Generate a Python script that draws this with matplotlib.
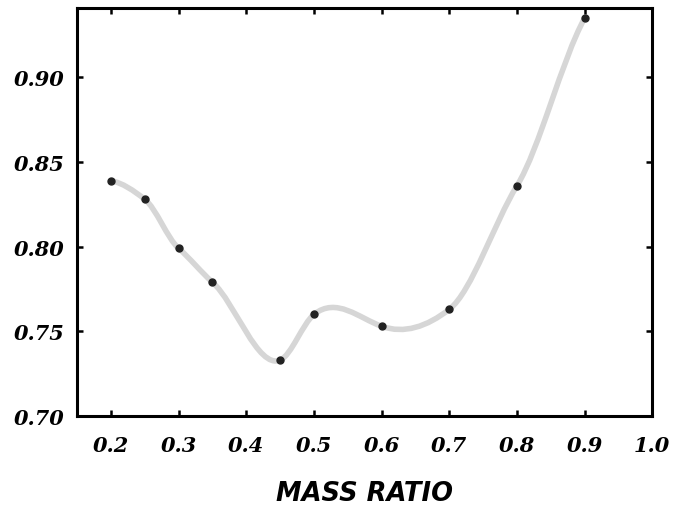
import numpy as np
import matplotlib
matplotlib.use("Agg")
import matplotlib.pyplot as plt
from matplotlib.path import Path
from matplotlib.patches import PathPatch

# values
mass_ratio = [0.20, 0.25, 0.30, 0.35, 0.45, 0.50, 0.60, 0.70, 0.80, 0.90]
response = [0.839, 0.828, 0.799, 0.779, 0.733, 0.760, 0.753, 0.763, 0.836, 0.935]

x_ticks = [0.2, 0.3, 0.4, 0.5, 0.6, 0.7, 0.8, 0.9, 1.0]
y_ticks = [0.70, 0.75, 0.80, 0.85, 0.90]


def spline_slopes(x, y):
    """First derivatives of the natural cubic spline at the knots."""
    h = np.diff(x)
    d = np.diff(y) / h
    n = len(x)
    A = np.zeros((n, n))
    b = np.zeros(n)
    A[0, 0], A[0, 1], b[0] = 2, 1, 3 * d[0]
    A[-1, -2], A[-1, -1], b[-1] = 1, 2, 3 * d[-1]
    for i in range(1, n - 1):
        A[i, i - 1] = h[i]
        A[i, i] = 2 * (h[i - 1] + h[i])
        A[i, i + 1] = h[i - 1]
        b[i] = 3 * (h[i] * d[i - 1] + h[i - 1] * d[i])
    return np.linalg.solve(A, b)


def smooth_path(x, y, tension=0.7):
    """Hermite curve through the points, written as a Bezier path."""
    x = np.asarray(x, float)
    y = np.asarray(y, float)
    slope = spline_slopes(x, y) * tension
    verts = [(x[0], y[0])]
    codes = [Path.MOVETO]
    for i in range(len(x) - 1):
        h = x[i + 1] - x[i]
        verts += [(x[i] + h / 3, y[i] + slope[i] * h / 3),
                  (x[i + 1] - h / 3, y[i + 1] - slope[i + 1] * h / 3),
                  (x[i + 1], y[i + 1])]
        codes += [Path.CURVE4] * 3
    return Path(verts, codes)


fig = plt.figure(figsize=(6.83, 5.06), dpi=100)
ax = fig.add_axes([0.113, 0.176, 0.842, 0.806])

ax.add_patch(PathPatch(smooth_path(mass_ratio, response), fill=False,
                       edgecolor="#d6d6d6", lw=4, capstyle="round", zorder=2))
ax.plot(mass_ratio, response, "o", color="#222222", ms=5, zorder=3)

ax.set_xlim(0.15, 1.0)
ax.set_ylim(0.70, 0.941)
ax.set_xticks(x_ticks)
ax.set_yticks(y_ticks)
ax.set_xticklabels([f"{v:.1f}" for v in x_ticks])
ax.set_yticklabels([f"{v:.2f}" for v in y_ticks])

for s in ax.spines.values():
    s.set_linewidth(2.2)
ax.tick_params(direction="in", top=True, right=True, length=4.5, width=1.8)
ax.tick_params(axis="x", pad=14)
ax.tick_params(axis="y", pad=9)
for lab in ax.get_xticklabels() + ax.get_yticklabels():
    lab.set_fontfamily("DejaVu Serif")
    lab.set_fontweight("bold")
    lab.set_fontstyle("italic")
    lab.set_fontsize(15)

ax.set_xlabel("MASS RATIO", fontfamily="DejaVu Sans", fontweight="bold",
              fontstyle="italic", fontsize=18.5, labelpad=18)

fig.savefig("out.png", dpi=100)
